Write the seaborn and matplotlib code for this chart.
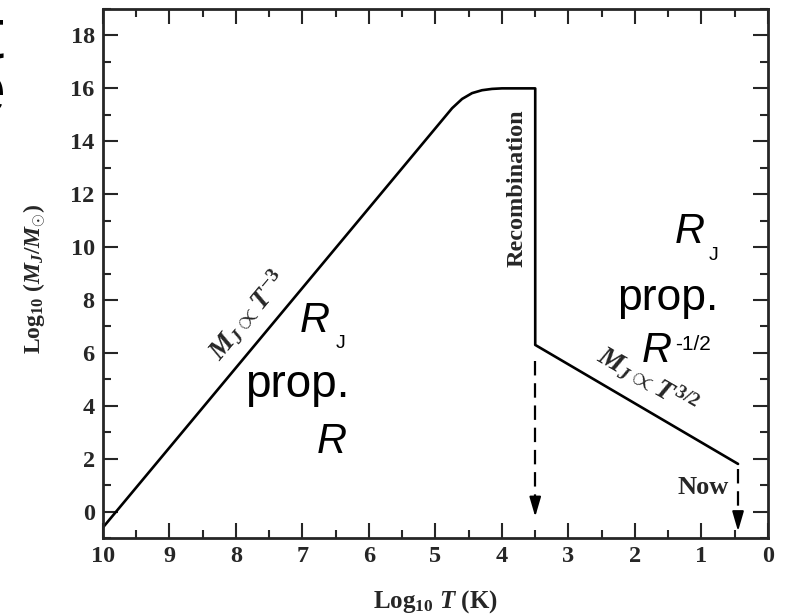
import seaborn as sns
import matplotlib.pyplot as plt
from matplotlib.ticker import MultipleLocator
import pandas as pd

# Jeans mass vs temperature
log_T = [10.0, 4.75, 4.6, 4.45, 4.3, 4.15, 4.0, 3.5, 3.5, 0.45]
log_MJ = [-0.6, 15.25, 15.6, 15.82, 15.93, 15.98, 16.0, 16.0, 6.3, 1.8]

# dashed arrows: recombination and now
arrow_T = [3.5, 0.45]
arrow_start = [5.7, 1.6]
arrow_tip = [-0.3, -0.85]

x_ticks = [10, 9, 8, 7, 6, 5, 4, 3, 2, 1, 0]
y_ticks = [0, 2, 4, 6, 8, 10, 12, 14, 16, 18]


def draw_jeans_mass(df):
    fig = plt.figure(figsize=(7.85, 6.14), dpi=100)
    ax = fig.add_axes([0.1312, 0.1238, 0.8471, 0.8615])

    sns.lineplot(data=df, x="logT", y="logM", sort=False, estimator=None,
                 color="black", linewidth=1.9, ax=ax)

    for xa, y0, y1 in zip(arrow_T, arrow_start, arrow_tip):
        ax.plot([xa, xa], [y0, y1 + 0.6], color="black", linewidth=1.6,
                linestyle=(0, (6.5, 3.5)))
        ax.annotate("", xy=(xa, y1), xytext=(xa, y1 + 0.75),
                    arrowprops=dict(arrowstyle="-|>,head_length=1.2,head_width=0.35",
                                    color="black", lw=1.4))

    ax.set_xlim(10, 0)
    ax.set_ylim(-1, 19)
    ax.set_xticks(x_ticks)
    ax.set_yticks(y_ticks)
    ax.xaxis.set_minor_locator(MultipleLocator(0.5))
    ax.yaxis.set_minor_locator(MultipleLocator(1))
    ax.tick_params(which="both", direction="in", top=True, right=True, width=1.5)
    ax.tick_params(which="major", length=10.5, pad=6, labelsize=17.5)
    ax.tick_params(which="minor", length=5.5)
    for lab in ax.get_xticklabels() + ax.get_yticklabels():
        lab.set_fontweight("bold")
    for sp in ax.spines.values():
        sp.set_linewidth(2)

    ax.set_xlabel(r"Log$_{10}$ $T$ (K)", fontsize=18, fontweight="bold")
    ax.set_ylabel(r"Log$_{10}$ ($M_J/M_{\odot}$)", fontsize=17, fontweight="bold")
    ax.xaxis.set_label_coords(0.5, -0.094)
    ax.yaxis.set_label_coords(-0.082, 0.49)

    # annotations from the original figure
    ax.text(3.77, 12.23, "Recombination", rotation=90, ha="center", va="center",
            fontsize=17.5, fontweight="bold")
    ax.text(7.82, 7.42, r"$M_J \propto T^{-3}$", rotation=50, ha="center",
            va="center", fontsize=20)
    ax.text(1.82, 4.96, r"$M_J \propto T^{3/2}$", rotation=-30, ha="center",
            va="center", fontsize=20)
    ax.text(0.98, 0.91, "Now", ha="center", va="center", fontsize=19,
            fontweight="bold")

    # overlay text from the slide
    sans = {"family": "Liberation Sans", "color": "black"}
    ax.text(6.59, 6.78, "R", ha="right", va="baseline", fontsize=30,
            style="italic", **sans)
    ax.text(6.50, 6.17, "J", ha="left", va="baseline", fontsize=14, **sans)
    ax.text(6.30, 4.32, "prop.", ha="right", va="baseline", fontsize=33, **sans)
    ax.text(6.33, 2.23, "R", ha="right", va="baseline", fontsize=30,
            style="italic", **sans)

    ax.text(0.947, 10.15, "R", ha="right", va="baseline", fontsize=30,
            style="italic", **sans)
    ax.text(0.887, 9.51, "J", ha="left", va="baseline", fontsize=14, **sans)
    ax.text(0.737, 7.61, "prop.", ha="right", va="baseline", fontsize=32, **sans)
    ax.text(1.44, 5.64, "R", ha="right", va="baseline", fontsize=30,
            style="italic", **sans)
    ax.text(1.40, 6.67, "-1/2", ha="left", va="top", fontsize=15, **sans)

    # cut-off slide title letters at the left edge
    fig.text(4 / 785, 1 - 58 / 614, "t", ha="right", va="baseline",
             fontsize=52, **sans)
    fig.text(6 / 785, 1 - 113 / 614, "e", ha="right", va="baseline",
             fontsize=52, **sans)

    plt.savefig("out.png", dpi=100)


if __name__ == '__main__':
    sns.set_style("ticks")
    plt.rcParams["font.family"] = ["Liberation Serif", "DejaVu Serif"]
    plt.rcParams["mathtext.fontset"] = "custom"
    plt.rcParams["mathtext.rm"] = "Liberation Serif:bold"
    plt.rcParams["mathtext.it"] = "Liberation Serif:italic:bold"
    plt.rcParams["mathtext.bf"] = "Liberation Serif:bold"

    df = pd.DataFrame({"logT": log_T, "logM": log_MJ})
    draw_jeans_mass(df)
